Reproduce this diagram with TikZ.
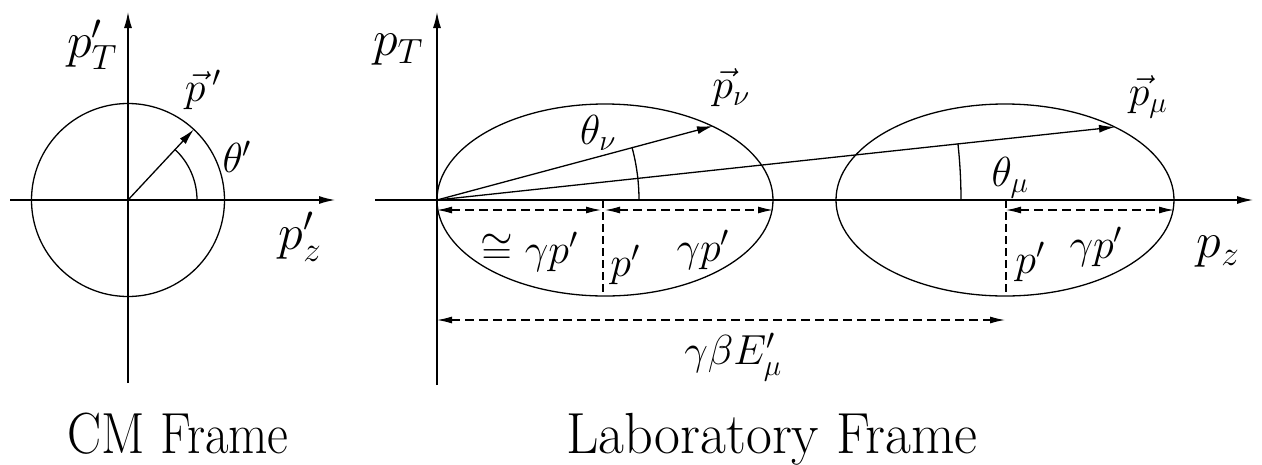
\RequirePackage{fix-cm}
\documentclass[tikz,border=0pt]{standalone}
\usepackage{amsmath}
\usetikzlibrary{arrows.meta,calc}
\tikzset{
  ln/.style={line width=1.3pt},
  tip/.style={-{Latex[length=16pt,width=8pt]}},
  dim/.style={line width=1.2pt,dash pattern=on 9pt off 5pt,{Latex[length=15pt,width=7pt]}-{Latex[length=15pt,width=7pt]}},
  dline/.style={line width=1.2pt,dash pattern=on 8pt off 4pt},
  big/.style={font=\fontsize{50}{60}\selectfont,inner sep=0pt},
  lab/.style={font=\fontsize{42}{50}\selectfont,inner sep=0pt},
  title/.style={font=\fontsize{58}{70}\selectfont,inner sep=0pt,anchor=base}
}
\begin{document}
\begin{tikzpicture}[x=1pt,y=-1pt]
\useasboundingbox (0,0) rectangle (1262,464);
% ---- CM frame ----
\coordinate (cO) at (128,200);
\coordinate (cL) at (10,200);
\coordinate (cR) at (335,200);
\coordinate (cB) at (128,383);
\coordinate (cT) at (128,12);
\coordinate (cP) at ($(cO)+(-47:96.5)$);
\draw[ln,tip] (cL) -- (cR);
\draw[ln,tip] (cB) -- (cT);
\draw[ln] (cO) circle[radius=96.5];
\draw[ln,tip] (cO) -- (cP);
\draw[ln] (cO) ++(69,0) arc[start angle=0,end angle=-47,radius=69];
\node[big] (cpT) at (92,45) {$p'_{T}$};
\node[big] (cpz) at (300,237) {$p'_{z}$};
\node[lab] (cpv) at (203,90) {$\vec{p}\,'$};
\node[lab] (cth) at (237,157) {$\theta'$};
% ---- Laboratory frame ----
\coordinate (O) at (437,200);
\coordinate (L) at (375,200);
\coordinate (R) at (1253,200);
\coordinate (B) at (437,385);
\coordinate (T) at (437,12);
\coordinate (Pnu) at (713,126);
\coordinate (Pmu) at (1115,127);
\draw[ln,tip] (L) -- (R);
\draw[ln,tip] (B) -- (T);
\draw[ln] (605,200) ellipse[x radius=168,y radius=96];
\draw[ln] (1005,200) ellipse[x radius=169,y radius=96];
\draw[ln,tip] (O) -- (Pnu);
\draw[ln,tip] (O) -- (Pmu);
\draw[ln] (O) ++(202,0) arc[start angle=0,end angle=-15.2,radius=202];
\draw[ln] (O) ++(524,0) arc[start angle=0,end angle=-6.2,radius=524];
% dimension lines
\coordinate (d1a) at (437,210);
\coordinate (d1b) at (601,210);
\coordinate (d2a) at (605,210);
\coordinate (d2b) at (773,210);
\coordinate (d3a) at (1006,210);
\coordinate (d3b) at (1174,210);
\coordinate (d4a) at (437,320);
\coordinate (d4b) at (1005,320);
\coordinate (v1a) at (603,200);
\coordinate (v1b) at (603,293);
\coordinate (v2a) at (1006,200);
\coordinate (v2b) at (1006,293);
\draw[dim] (d1a) -- (d1b);
\draw[dim] (d2a) -- (d2b);
\draw[dim] (d3a) -- (d3b);
\draw[dim] (d4a) -- (d4b);
\draw[dline] (v1a) -- (v1b);
\draw[dline] (v2a) -- (v2b);
% labels
\node[big] (lpT) at (398,50) {$p_{T}$};
\node[big] (lpz) at (1218,252) {$p_{z}$};
\node[lab] (lpnu) at (731,88) {$\vec{p}_{\nu}$};
\node[lab] (lpmu) at (1148,97) {$\vec{p}_{\mu}$};
\node[lab] (lthnu) at (598,133) {$\theta_{\nu}$};
\node[lab] (lthmu) at (1010,178) {$\theta_{\mu}$};
\node[lab] (lcong) at (529,252) {$\cong\gamma p'$};
\node[lab] (lp1) at (625,265) {$p'$};
\node[lab] (lgp1) at (703,250) {$\gamma p'$};
\node[lab] (lp2) at (1030,262) {$p'$};
\node[lab] (lgp2) at (1096,247) {$\gamma p'$};
\node[lab] (lgbE) at (733,357) {$\gamma\beta E'_{\mu}$};
% titles
\node[title] (tcm) at (178,453) {\scalebox{0.88}[1]{CM Frame}};
\node[title] (tlab) at (772,453) {\scalebox{0.97}[1]{Laboratory Frame}};
\end{tikzpicture}
\end{document}
